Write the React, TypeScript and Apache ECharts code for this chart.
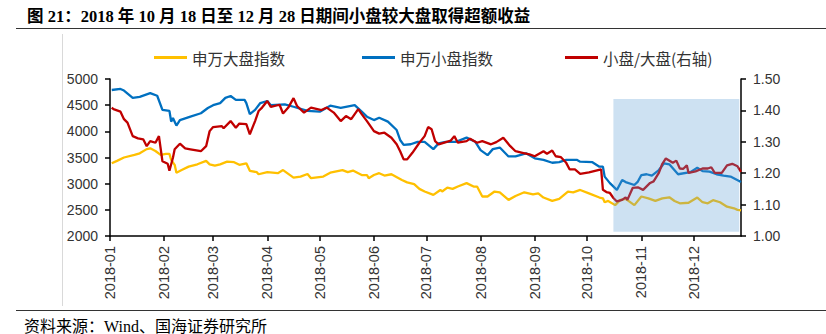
import React, { useEffect, useRef } from 'react';
import * as echarts from 'echarts';

const YEAR = 2018;
const DAY = 86400000;

const titleText = '图 21：2018 年 10 月 18 日至 12 月 28 日期间小盘较大盘取得超额收益';
const sourceText = '资料来源：Wind、国海证券研究所';
const seriesNames = ['申万大盘指数', '申万小盘指数', '小盘/大盘(右轴)'];
const leftTicks = { min: 2000, max: 5000, step: 500 };
const rightTicks = { min: 1.0, max: 1.5, step: 0.1 };
const axisStart = '01-01';
const axisEnd = '12-28';
const shadeRange = { from: '10-16', to: '12-27', top: 4620, bottom: 2080 };

const largeDates = [
  '01-02','01-05','01-09','01-15','01-18','01-22','01-24','01-27','01-30','02-02',
  '02-04','02-05','02-07','02-08','02-11','02-15','02-20','02-25','02-27','03-02',
  '03-05','03-09','03-13','03-16','03-20','03-22','03-26','03-27','04-01','04-07',
  '04-10','04-16','04-20','04-24','04-26','05-03','05-07','05-14','05-17','05-20',
  '05-25','05-28','05-29','06-01','06-04','06-07','06-11','06-17','06-20','06-24',
  '06-27','06-30','07-05','07-09','07-10','07-13','07-16','07-19','07-24','07-28',
  '07-30','08-02','08-05','08-09','08-12','08-17','08-21','08-26','08-31','09-03',
  '09-06','09-11','09-15','09-20','09-23','09-27','10-02','10-08','10-10','10-11',
  '10-13','10-17','10-20','10-23','10-28','11-01','11-05','11-09','11-13','11-17',
  '11-20','11-23','11-28','12-03','12-06','12-09','12-12','12-16','12-20','12-24',
  '12-26','12-28'
];
const largeValues = [
  3390,3435,3500,3550,3580,3660,3675,3625,3550,3570,
  3570,3455,3360,3210,3260,3325,3370,3435,3370,3345,
  3370,3420,3410,3360,3390,3245,3220,3180,3220,3200,
  3260,3115,3135,3185,3105,3135,3210,3260,3220,3250,
  3165,3165,3105,3165,3200,3155,3180,3070,3025,2990,
  2900,2850,2785,2880,2850,2925,2900,2945,3010,2945,
  2945,2755,2755,2850,2835,2690,2765,2835,2795,2815,
  2735,2670,2710,2850,2835,2880,2815,2735,2720,2645,
  2670,2590,2690,2710,2590,2755,2720,2670,2720,2740,
  2670,2625,2635,2735,2645,2625,2685,2645,2560,2530,
  2500,2490
];

const smallDates = [
  '01-02','01-07','01-09','01-14','01-18','01-24','01-28','01-31','02-04','02-05',
  '02-06','02-08','02-10','02-16','02-22','02-26','03-01','03-05','03-08','03-11',
  '03-14','03-19','03-20','03-22','03-25','03-28','04-01','04-03','04-11','04-16',
  '04-24','05-01','05-07','05-13','05-21','05-25','05-28','06-01','06-04','06-09',
  '06-14','06-16','06-18','06-22','06-26','06-30','07-05','07-08','07-12','07-18',
  '07-24','07-29','08-01','08-05','08-08','08-12','08-17','08-21','08-27','09-01',
  '09-06','09-11','09-15','09-19','09-25','09-27','10-04','10-08','10-10','10-11',
  '10-14','10-18','10-21','10-23','10-28','10-30','11-01','11-04','11-07','11-11',
  '11-14','11-17','11-22','11-29','12-03','12-06','12-10','12-14','12-18','12-22',
  '12-28'
];
const smallValues = [
  4790,4810,4780,4640,4660,4730,4680,4410,4390,4185,
  4255,4110,4215,4280,4345,4445,4500,4540,4640,4675,
  4600,4600,4540,4330,4410,4540,4580,4500,4515,4470,
  4390,4375,4490,4450,4500,4375,4280,4215,4260,4185,
  4025,3835,3740,3753,3800,3800,3660,3770,3800,3800,
  3880,3800,3640,3545,3660,3690,3520,3520,3580,3485,
  3455,3400,3410,3455,3455,3420,3410,3325,3325,3135,
  3010,2880,3070,3030,2975,3040,3165,3180,3155,3260,
  3390,3370,3180,3220,3305,3240,3230,3180,3155,3135,
  3030
];

const ratioDates = [
  '01-02','01-03','01-07','01-09','01-11','01-14','01-17','01-20','01-22','01-24',
  '01-27','01-29','01-31','02-03','02-04','02-06','02-07','02-10','02-13','02-16',
  '02-22','02-25','02-27','03-01','03-06','03-07','03-11','03-14','03-16','03-20',
  '03-22','03-25','03-27','03-29','04-01','04-03','04-08','04-10','04-13','04-16',
  '04-18','04-22','04-26','05-02','05-05','05-09','05-13','05-16','05-19','05-23',
  '05-25','05-28','06-01','06-04','06-07','06-11','06-14','06-16','06-18','06-20',
  '06-23','06-27','06-30','07-02','07-04','07-06','07-08','07-15','07-17','07-19',
  '07-24','07-26','07-30','08-02','08-07','08-10','08-14','08-18','08-21','08-25',
  '08-29','09-01','09-06','09-08','09-11','09-13','09-16','09-19','09-21','09-24',
  '09-27','10-02','10-09','10-10','10-12','10-14','10-16','10-18','10-21','10-23',
  '10-24','10-27','10-30','11-02','11-06','11-08','11-11','11-13','11-15','11-19',
  '11-21','11-23','11-25','11-27','11-28','12-02','12-06','12-09','12-11','12-13',
  '12-17','12-20','12-23','12-26','12-28'
];
const ratioValues = [
  1.409,1.404,1.396,1.372,1.361,1.318,1.311,1.308,1.286,1.302,
  1.297,1.318,1.238,1.230,1.208,1.249,1.276,1.294,1.279,1.276,
  1.270,1.286,1.334,1.347,1.350,1.343,1.366,1.345,1.358,1.356,
  1.324,1.366,1.398,1.409,1.430,1.411,1.418,1.390,1.409,1.439,
  1.414,1.393,1.409,1.401,1.409,1.393,1.366,1.382,1.372,1.404,
  1.388,1.366,1.334,1.326,1.329,1.313,1.292,1.270,1.244,1.244,
  1.265,1.297,1.318,1.347,1.340,1.302,1.292,1.304,1.318,1.297,
  1.302,1.310,1.297,1.302,1.292,1.299,1.313,1.286,1.270,1.265,
  1.260,1.254,1.270,1.262,1.272,1.254,1.251,1.233,1.212,1.212,
  1.198,1.203,1.212,1.147,1.140,1.137,1.121,1.110,1.115,1.123,
  1.115,1.153,1.155,1.147,1.169,1.174,1.201,1.230,1.247,1.233,
  1.240,1.215,1.214,1.225,1.201,1.206,1.215,1.215,1.219,1.201,
  1.201,1.225,1.230,1.222,1.204
];

const colors = ['#FFC000', '#0070C0', '#C00000'];

const toTs = (md: string) => {
  const [m, d] = md.split('-').map(Number);
  return Date.UTC(YEAR, m - 1, d);
};
const zip = (ds: string[], vs: number[]) => ds.map((d, i) => [toTs(d), vs[i]]);

const LATIN = '"Liberation Sans", Arial, sans-serif';
const CJK = '"Noto Sans CJK SC", "Liberation Sans", sans-serif';
const SERIF_CJK = '"Liberation Serif", "Noto Sans CJK SC", serif';

export default function App() {
  const ref = useRef<HTMLDivElement>(null);
  useEffect(() => {
    const chart = echarts.init(ref.current!, null, { renderer: 'svg' });
    const legendCommon = {
      icon: 'rect',
      itemWidth: 33,
      itemHeight: 3,
      padding: 0,
      top: 49.5,
      textStyle: { fontSize: 15.5, color: '#333', fontFamily: CJK, lineHeight: 16 },
    };
    const axisLineStyle = { color: '#000', width: 1.5 };
    chart.setOption({
      animation: false,
      useUTC: true,
      backgroundColor: '#fff',
      grid: { left: 110, right: 85, top: 79, bottom: 98, containLabel: false },
      legend: [
        { ...legendCommon, data: [seriesNames[0]], left: 154 },
        { ...legendCommon, data: [seriesNames[1]], left: 362 },
        { ...legendCommon, data: [seriesNames[2]], left: 565 },
      ],
      xAxis: {
        type: 'time',
        min: toTs(axisStart),
        max: toTs(axisEnd),
        minInterval: 28 * DAY,
        maxInterval: 31 * DAY,
        splitLine: { show: false },
        axisLine: { lineStyle: axisLineStyle },
        axisTick: { show: true, length: 5, lineStyle: axisLineStyle },
        axisLabel: {
          rotate: 90,
          margin: 10,
          fontSize: 14.5,
          color: '#333',
          fontFamily: LATIN,
          hideOverlap: false,
          formatter: (v: number) => {
            const d = new Date(v);
            if (d.getUTCDate() !== 1) return '';
            return `${d.getUTCFullYear()}-${String(d.getUTCMonth() + 1).padStart(2, '0')}`;
          },
        },
      },
      yAxis: [
        {
          type: 'value',
          min: leftTicks.min,
          max: leftTicks.max,
          interval: leftTicks.step,
          splitLine: { show: false },
          axisLine: { show: true, lineStyle: axisLineStyle },
          axisTick: { show: true, length: 5, lineStyle: axisLineStyle },
          axisLabel: {
            fontSize: 14,
            color: '#333',
            fontFamily: LATIN,
            margin: 12,
            formatter: (v: number) => String(v),
          },
        },
        {
          type: 'value',
          position: 'right',
          min: rightTicks.min,
          max: rightTicks.max,
          interval: rightTicks.step,
          splitLine: { show: false },
          axisLine: { show: true, lineStyle: axisLineStyle },
          axisTick: { show: true, length: 5, lineStyle: axisLineStyle },
          axisLabel: {
            fontSize: 14,
            color: '#333',
            fontFamily: LATIN,
            margin: 12,
            formatter: (v: number) => v.toFixed(2),
          },
        },
      ],
      series: [
        {
          name: seriesNames[0],
          type: 'line',
          yAxisIndex: 0,
          data: zip(largeDates, largeValues),
          showSymbol: false,
          symbol: 'none',
          lineStyle: { width: 2.3, color: colors[0] },
          itemStyle: { color: colors[0] },
        },
        {
          name: seriesNames[1],
          type: 'line',
          yAxisIndex: 0,
          data: zip(smallDates, smallValues),
          showSymbol: false,
          symbol: 'none',
          lineStyle: { width: 2.3, color: colors[1] },
          itemStyle: { color: colors[1] },
          markArea: {
            silent: true,
            z: 10,
            itemStyle: { color: 'rgba(91,155,213,0.3)', borderWidth: 0 },
            data: [[
              { xAxis: toTs(shadeRange.from), yAxis: shadeRange.top },
              { xAxis: toTs(shadeRange.to), yAxis: shadeRange.bottom },
            ]],
          },
        },
        {
          name: seriesNames[2],
          type: 'line',
          yAxisIndex: 1,
          data: zip(ratioDates, ratioValues),
          showSymbol: false,
          symbol: 'none',
          lineStyle: { width: 2.3, color: colors[2] },
          itemStyle: { color: colors[2] },
        },
      ],
      graphic: [
        {
          type: 'text',
          x: 27,
          y: 16,
          style: {
            text: titleText,
            fontSize: 16.5,
            fontWeight: 'bold',
            fontFamily: SERIF_CJK,
            fill: '#000',
            textAlign: 'left',
            textVerticalAlign: 'middle',
          },
        },
        { type: 'line', shape: { x1: 16, y1: 28.5, x2: 826, y2: 28.5 }, style: { stroke: '#333', lineWidth: 1 } },
        { type: 'line', shape: { x1: 62.5, y1: 34, x2: 62.5, y2: 306 }, style: { stroke: '#d9d9d9', lineWidth: 1 } },
        { type: 'line', shape: { x1: 16, y1: 310.5, x2: 826, y2: 310.5 }, style: { stroke: '#333', lineWidth: 1 } },
        {
          type: 'text',
          x: 24,
          y: 326,
          style: {
            text: sourceText,
            fontSize: 16,
            fontFamily: SERIF_CJK,
            fill: '#000',
            textAlign: 'left',
            textVerticalAlign: 'middle',
          },
        },
      ],
    });
    return () => chart.dispose();
  }, []);
  return (
    <div
      ref={ref}
      style={{ position: 'fixed', left: 0, top: 0, width: 826, height: 334, background: '#fff' }}
    />
  );
}
